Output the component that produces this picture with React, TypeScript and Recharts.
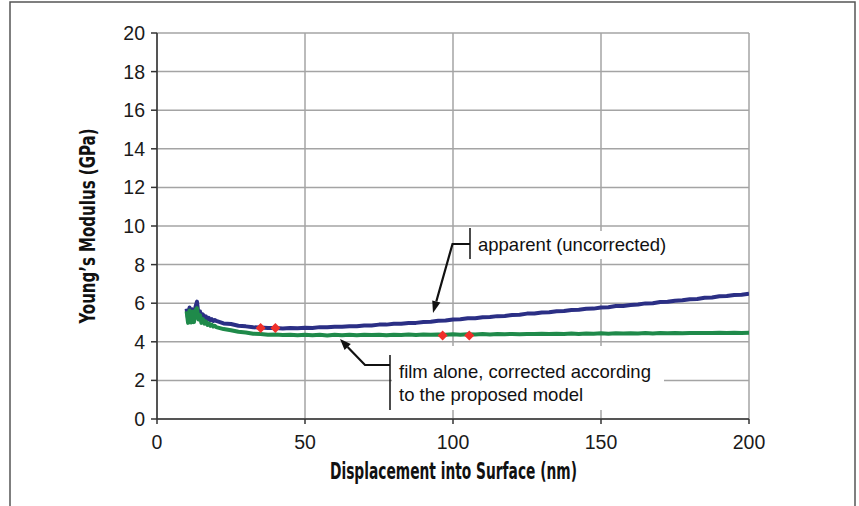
import React from "react";
import {
  ComposedChart,
  Line,
  Scatter,
  XAxis,
  YAxis,
  CartesianGrid,
} from "recharts";

// Displacement into surface (nm)
const displacement: number[] = [
  10, 10.5, 11, 11.5, 12, 12.5, 13, 13.5, 14, 14.5, 15, 15.5, 16, 16.5, 17, 17.5, 18, 18.5, 19, 19.5,
  20, 22.5, 25, 27.5, 30, 32.5, 35, 37.5, 40, 42.5, 45, 47.5, 50, 52.5, 55, 57.5, 60, 62.5, 65, 67.5,
  70, 72.5, 75, 77.5, 80, 82.5, 85, 87.5, 90, 92.5, 95, 97.5, 100, 102.5, 105, 107.5, 110, 112.5, 115,
  117.5, 120, 122.5, 125, 127.5, 130, 132.5, 135, 137.5, 140, 142.5, 145, 147.5, 150, 152.5, 155,
  157.5, 160, 162.5, 165, 167.5, 170, 172.5, 175, 177.5, 180, 182.5, 185, 187.5, 190, 192.5, 195,
  197.5, 200,
];

// Apparent (uncorrected) modulus, GPa
const apparent: number[] = [
  5.72, 5.2, 5.78, 5.25, 5.68, 5.3, 5.8, 6.08, 5.45, 5.58, 5.3, 5.42, 5.22, 5.32, 5.16, 5.24, 5.11, 5.17, 5.08, 5.13,
  5.08, 4.95, 4.92, 4.83, 4.8, 4.75, 4.74, 4.71, 4.72, 4.69, 4.72, 4.7, 4.73, 4.72, 4.76, 4.75, 4.78, 4.78, 4.81, 4.81,
  4.85, 4.85, 4.89, 4.89, 4.93, 4.94, 4.98, 4.98, 5.03, 5.04, 5.09, 5.1, 5.16, 5.17, 5.22, 5.22, 5.27, 5.28, 5.33,
  5.34, 5.39, 5.4, 5.46, 5.47, 5.52, 5.53, 5.58, 5.6, 5.65, 5.66, 5.71, 5.72, 5.78, 5.79, 5.85,
  5.86, 5.91, 5.93, 5.99, 6.0, 6.06, 6.07, 6.13, 6.15, 6.2, 6.22, 6.28, 6.3, 6.36, 6.37, 6.43,
  6.44, 6.49,
];

// Film alone, corrected according to the proposed model, GPa
const corrected: number[] = [
  5.58, 4.98, 5.62, 5.0, 5.56, 5.02, 5.64, 5.74, 5.15, 5.38, 4.98, 5.18, 4.94, 5.06, 4.88, 4.96, 4.83, 4.89, 4.79, 4.83,
  4.76, 4.66, 4.6, 4.52, 4.48, 4.42, 4.41, 4.37, 4.38, 4.35, 4.37, 4.34, 4.36, 4.34, 4.36, 4.33, 4.36, 4.34, 4.37, 4.34,
  4.36, 4.35, 4.37, 4.34, 4.37, 4.35, 4.38, 4.35, 4.38, 4.36, 4.38, 4.36, 4.39, 4.37, 4.39, 4.38, 4.4, 4.38, 4.4,
  4.39, 4.41, 4.39, 4.41, 4.4, 4.42, 4.4, 4.42, 4.41, 4.43, 4.41, 4.43, 4.42, 4.44, 4.42, 4.44,
  4.43, 4.44, 4.43, 4.45, 4.43, 4.45, 4.44, 4.46, 4.44, 4.46, 4.45, 4.46, 4.45, 4.47, 4.45, 4.47,
  4.46, 4.47,
];

// Red diamond markers
const markerX: number[] = [35, 40, 96.5, 105.5];
const markerY: number[] = [4.72, 4.71, 4.33, 4.33];

const xTicks: number[] = [0, 50, 100, 150, 200];
const yTicks: number[] = [0, 2, 4, 6, 8, 10, 12, 14, 16, 18, 20];

const tableData = displacement.map((x, i) => ({
  x,
  apparent: apparent[i],
  corrected: corrected[i],
}));
const markerData = markerX.map((x, i) => ({ x, y: markerY[i] }));

const tickFont = "'Liberation Sans', Arial, sans-serif";
const titleFont = "'Liberation Sans Narrow', 'DejaVu Sans Condensed', 'Liberation Sans', sans-serif";

const Diamond = (props: any) => {
  const { cx, cy } = props;
  if (cx == null || cy == null) return null;
  const r = 5;
  return (
    <polygon
      points={`${cx},${cy - r} ${cx + r},${cy} ${cx},${cy + r} ${cx - r},${cy}`}
      fill="#f0302a"
    />
  );
};

export default function App() {
  return (
    <div style={{ position: "absolute", left: 0, top: 0, width: 859, height: 506, background: "#fff" }}>
      <ComposedChart
        width={859}
        height={506}
        data={tableData}
        margin={{ top: 33, right: 110, bottom: 0, left: 0 }}
        style={{ fontFamily: tickFont }}
      >
        <CartesianGrid stroke="#a4a4a4" strokeWidth={1.5} />
        <XAxis
          type="number"
          dataKey="x"
          domain={[0, 200]}
          ticks={xTicks}
          height={87}
          tickSize={5}
          tickMargin={11}
          stroke="#333"
          strokeWidth={1.5}
          tick={{ fill: "#1a1a1a", fontSize: 19.5, fontFamily: tickFont }}
          allowDataOverflow
        />
        <YAxis
          type="number"
          domain={[0, 20]}
          ticks={yTicks}
          width={157}
          tickSize={6}
          tickMargin={6}
          stroke="#333"
          strokeWidth={1.5}
          tick={{ fill: "#1a1a1a", fontSize: 19.5, fontFamily: tickFont }}
          allowDataOverflow
        />
        <Line
          dataKey="apparent"
          stroke="#2b2f85"
          strokeWidth={4}
          dot={false}
          isAnimationActive={false}
          strokeLinejoin="round"
        />
        <Line
          dataKey="corrected"
          stroke="#1f8a4a"
          strokeWidth={4}
          dot={false}
          isAnimationActive={false}
          strokeLinejoin="round"
        />
        <Scatter data={markerData} dataKey="y" shape={<Diamond />} isAnimationActive={false} />
      </ComposedChart>
      <svg
        width={859}
        height={506}
        style={{ position: "absolute", left: 0, top: 0, pointerEvents: "none" }}
      >
        {/* frame */}
        <rect x={10} y={2} width={845} height={530} fill="none" stroke="#555" strokeWidth={1.5} />
        {/* axis titles */}
        <text
          transform="translate(95,226) rotate(-90)"
          textAnchor="middle"
          fontFamily={titleFont}
          fontWeight="bold"
          fontSize={22}
          fill="#111"
          textLength={195}
          lengthAdjust="spacingAndGlyphs"
        >
          Young’s Modulus (GPa)
        </text>
        <text
          x={453.5}
          y={479}
          textAnchor="middle"
          fontFamily={titleFont}
          fontWeight="bold"
          fontSize={23}
          fill="#111"
          textLength={247}
          lengthAdjust="spacingAndGlyphs"
        >
          Displacement into Surface (nm)
        </text>
        {/* apparent annotation */}
        <rect x={473} y={231} width={200} height={28} fill="#fff" />
        <line x1={470} y1={228} x2={470} y2={259} stroke="#111" strokeWidth={1.5} />
        <polyline points="470,244 452.5,244 436.3,301.5" fill="none" stroke="#111" strokeWidth={2.2} />
        <polygon points="433,313 440.4,302.6 432.2,300.4" fill="#111" />
        <text x={478} y={251} fontFamily={tickFont} fontSize={18.5} fill="#111">
          apparent (uncorrected)
        </text>
        {/* film annotation */}
        <rect x={392} y={346} width={272} height={64} fill="#fff" />
        <line x1={390} y1={355} x2={390} y2={410} stroke="#111" strokeWidth={1.5} />
        <polyline points="390,365 365,365 347.6,346.9" fill="none" stroke="#111" strokeWidth={2.2} />
        <polygon points="340,339 350.8,344.0 344.6,350.0" fill="#111" />
        <text x={399} y={378} fontFamily={tickFont} fontSize={18.5} fill="#111">
          film alone, corrected according
        </text>
        <text x={399} y={401} fontFamily={tickFont} fontSize={18.5} fill="#111">
          to the proposed model
        </text>
      </svg>
    </div>
  );
}
